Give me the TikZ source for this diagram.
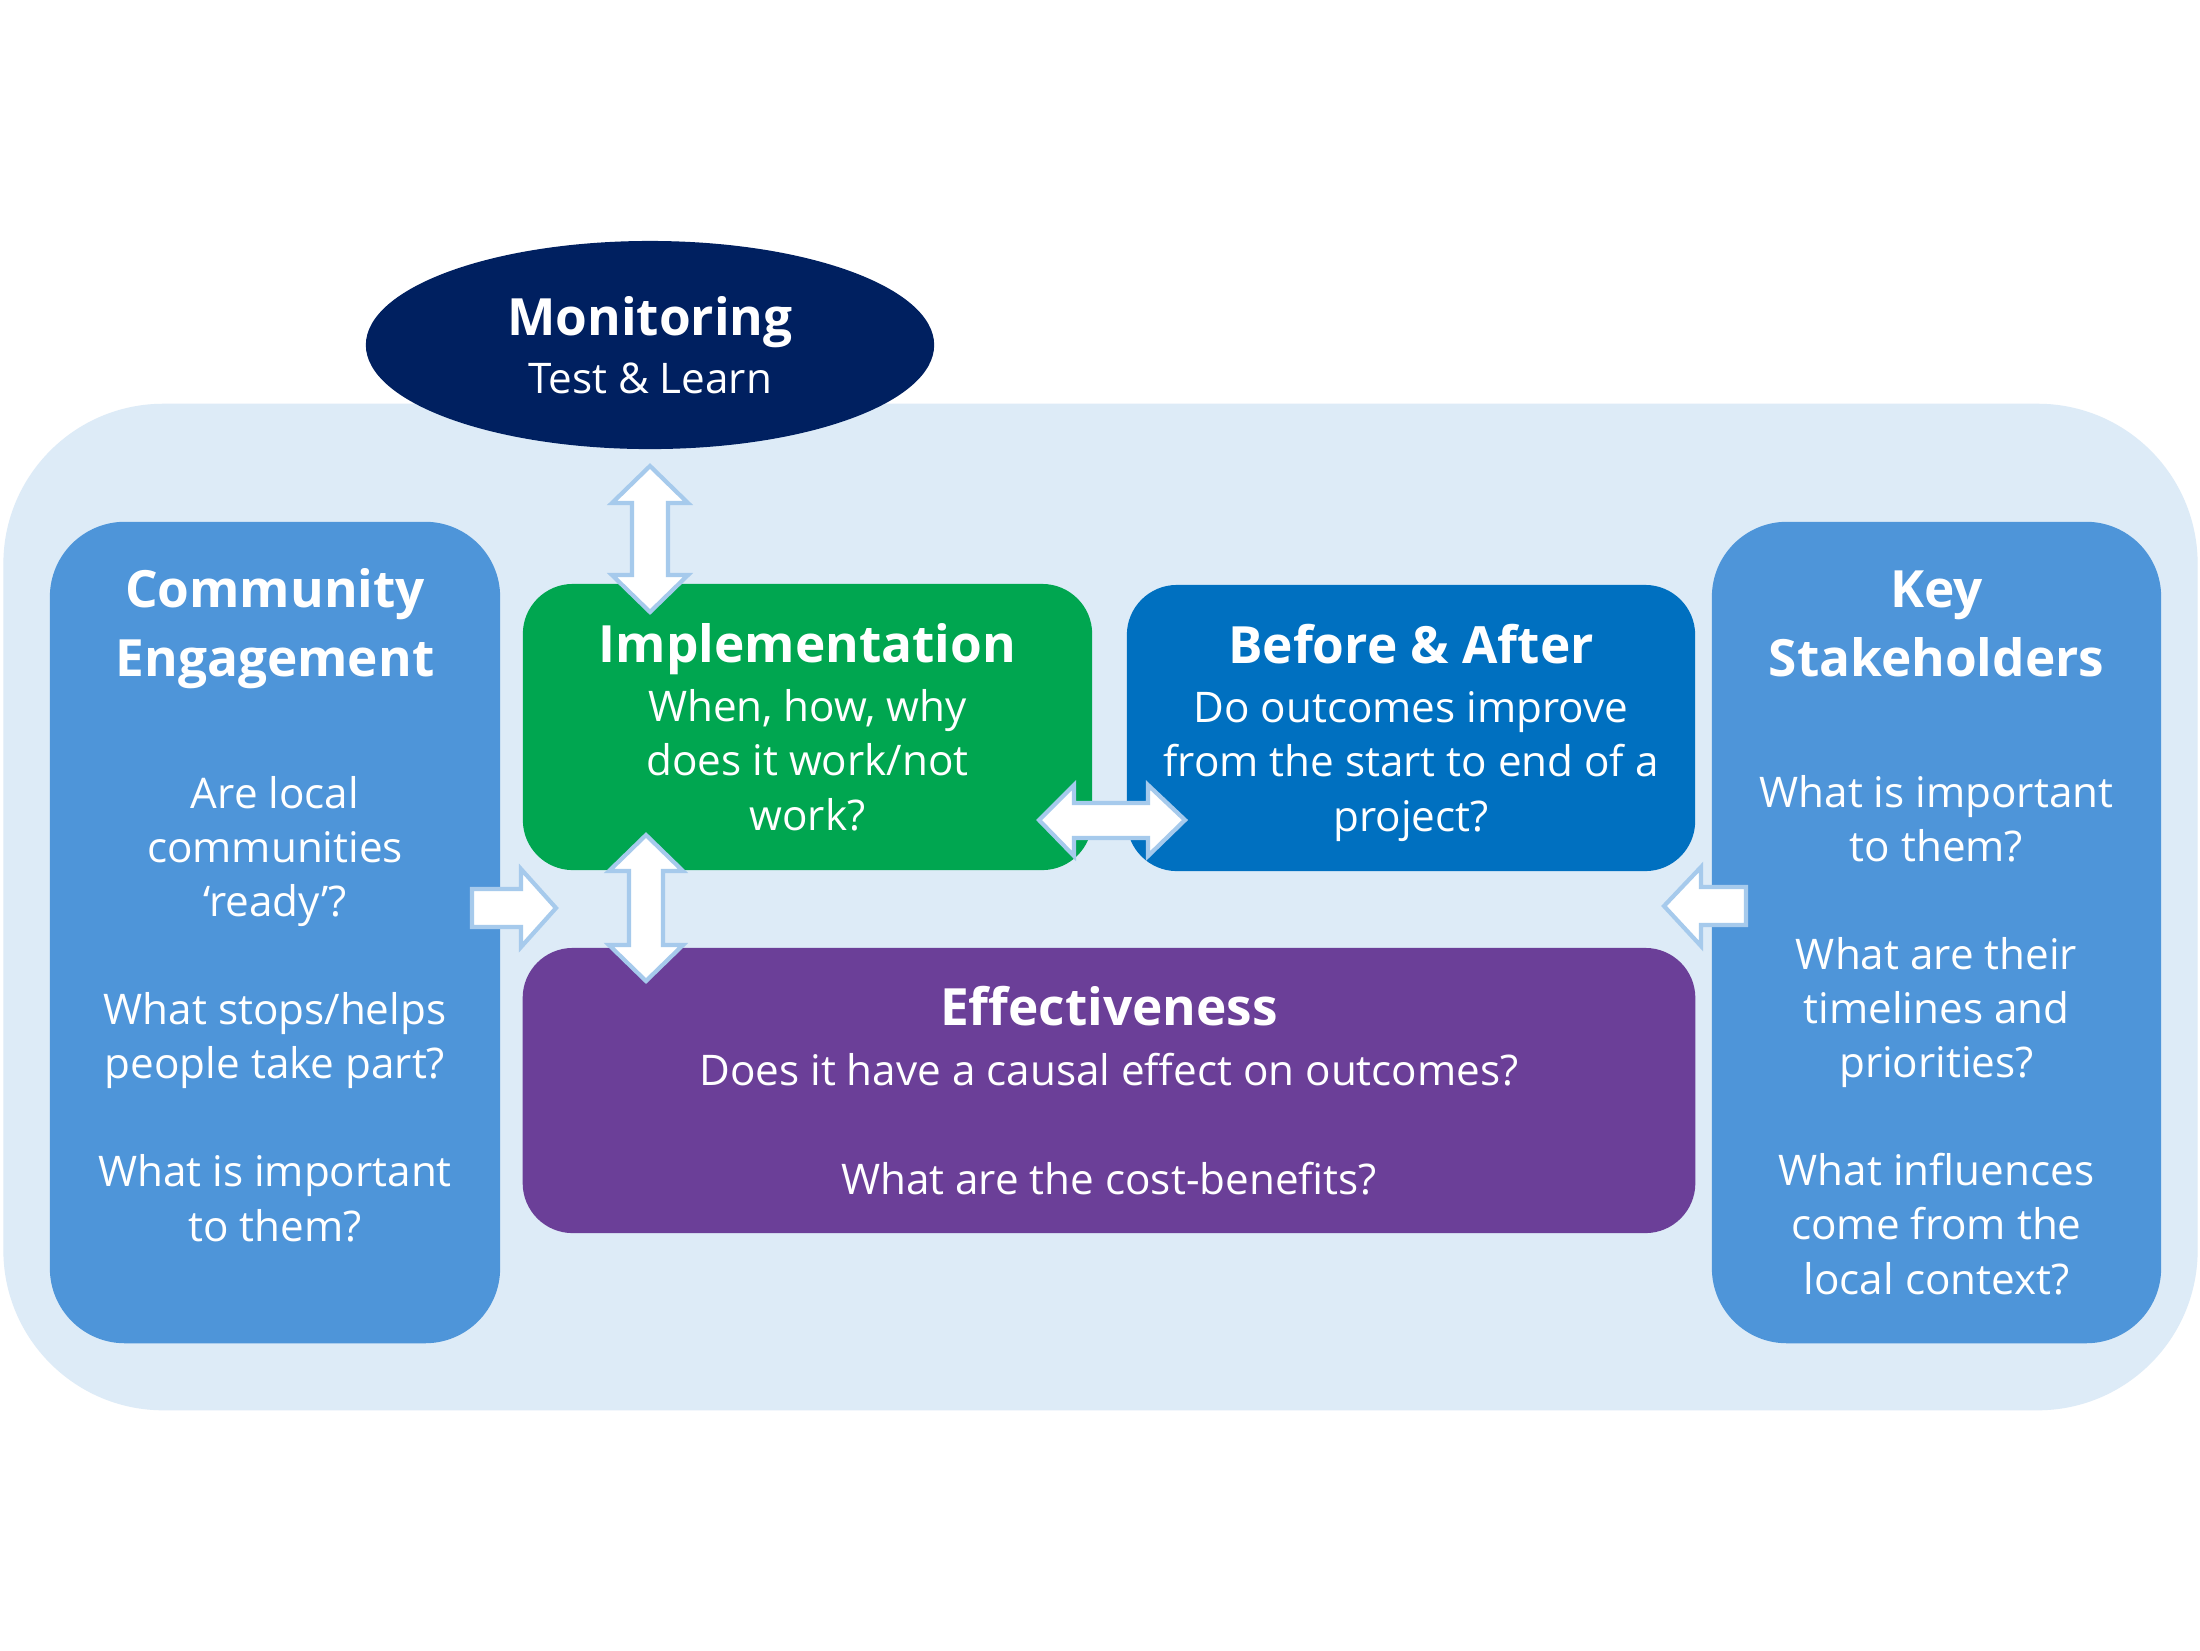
\documentclass[tikz,border=0pt]{standalone}
\usepackage{fontspec}
\setmainfont{Open Sans}
\usetikzlibrary{shapes.geometric}
\definecolor{bglight}{HTML}{DDEBF7}
\definecolor{sideblue}{HTML}{4E95D9}
\definecolor{implgreen}{HTML}{00A650}
\definecolor{beforeblue}{HTML}{0070C0}
\definecolor{effpurple}{HTML}{6B3F98}
\definecolor{navy}{HTML}{002060}
\definecolor{arrowblue}{HTML}{A6CAEC}
\tikzset{
  box/.style={rectangle, rounded corners=0.5cm, inner sep=0pt},
  sidebox/.style={rectangle, rounded corners=0.75cm, inner sep=0pt, fill=sideblue},
  bodytext/.style={text=white, font=\fontsize{12}{15.37}\selectfont, align=center, anchor=base, inner sep=0pt},
  titletext/.style={text=white, font=\bfseries\fontsize{14.6}{19.4}\selectfont, align=center, anchor=base, inner sep=0pt},
  blockarrow/.style={fill=white, draw=arrowblue, line width=1.2pt, line join=miter}
}
\begin{document}
\begin{tikzpicture}[x=0.01cm, y=-0.01cm]
\useasboundingbox (0,0) rectangle (2200,1650);
\fill[white] (0,0) rectangle (2200,1650);
% background panel
\node[rectangle, rounded corners=1.6cm, fill=bglight, minimum width=21.93cm, minimum height=10.06cm, inner sep=0pt] (bg) at (1100.5,907) {};
% monitoring ellipse
\node[ellipse, fill=navy, minimum width=5.68cm, minimum height=2.08cm, inner sep=0pt] (mon) at (650,345) {};
\node[titletext] (montitle) at (650,335) {Monitoring};
\node[bodytext] (monbody) at (650,393) {Test \& Learn};
% side boxes
\node[sidebox, minimum width=4.5cm, minimum height=8.21cm] (ce) at (275,932.5) {};
\node[sidebox, minimum width=4.49cm, minimum height=8.21cm] (ks) at (1936.5,932.5) {};
% central boxes
\node[box, fill=implgreen, minimum width=5.69cm, minimum height=2.86cm] (impl) at (807.5,727) {};
\node[box, fill=beforeblue, minimum width=5.68cm, minimum height=2.86cm] (ba) at (1411,728) {};
\node[box, fill=effpurple, minimum width=11.72cm, minimum height=2.85cm] (eff) at (1109,1090.5) {};
% texts (base anchor = baseline of the last line)
\node[titletext] (cetitle) at (275,676) {Community\\Engagement};
\node[bodytext] (cebody) at (275,1241) {Are local\\communities\\‘ready’?\\[15.37pt]What stops/helps\\people take part?\\[15.37pt]What is important\\to them?};
\node[titletext] (kstitle) at (1936.5,676) {Key\\Stakeholders};
\node[bodytext] (ksbody) at (1936.5,1294) {What is important\\to them?\\[15.37pt]What are their\\timelines and\\priorities?\\[15.37pt]What influences\\come from the\\local context?};
\node[titletext] (impltitle) at (807.5,662) {Implementation};
\node[bodytext] (implbody) at (807.5,830) {When, how, why\\does it work/not\\work?};
\node[titletext] (batitle) at (1411,663) {Before \& After};
\node[bodytext] (babody) at (1411,831) {Do outcomes improve\\from the start to end of a\\project?};
\node[titletext] (efftitle) at (1109,1025) {Effectiveness};
\node[bodytext] (effbody) at (1109,1194) {Does it have a causal effect on outcomes?\\[15.37pt]What are the cost-benefits?};
% block arrows
\draw[blockarrow] (650,466) -- (688,503) -- (668,503) -- (668,575) -- (688,575) -- (650,612) -- (612,575) -- (632,575) -- (632,503) -- (612,503) -- cycle;
\draw[blockarrow] (646,835) -- (683,871) -- (663,871) -- (663,945) -- (683,945) -- (646,981) -- (609,945) -- (629,945) -- (629,871) -- (609,871) -- cycle;
\draw[blockarrow] (472,889) -- (521,889) -- (521,869) -- (556,908) -- (521,947) -- (521,927) -- (472,927) -- cycle;
\draw[blockarrow] (1039,820) -- (1074,785) -- (1074,803) -- (1148,803) -- (1148,785) -- (1185,820) -- (1148,856) -- (1148,838) -- (1074,838) -- (1074,856) -- cycle;
\draw[blockarrow] (1746,887) -- (1701,887) -- (1701,867) -- (1664,906) -- (1701,946) -- (1701,925) -- (1746,925) -- cycle;
\end{tikzpicture}
\end{document}
